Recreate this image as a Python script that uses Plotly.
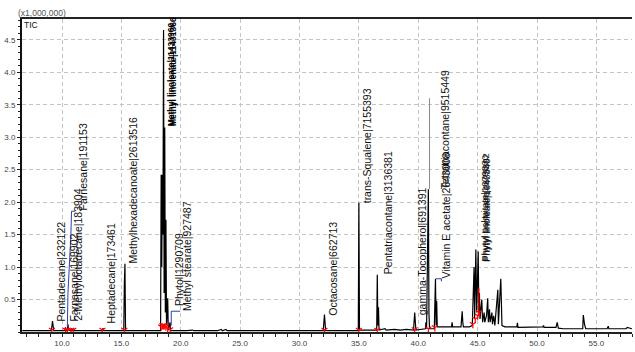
import plotly.graph_objects as go

# ---------------- data (retention time in min, TIC in units of 1,000,000) ----------------
rt_min = [6.65, 9.1, 9.2, 9.3, 10.25, 10.3, 10.35, 10.45, 10.5, 10.55, 10.75, 10.8, 10.85,
          10.95, 11.0, 11.05, 13.4, 13.45, 13.5, 15.2, 15.25, 15.3, 15.35,
          18.3, 18.35, 18.4, 18.45, 18.5, 18.55, 18.6, 18.65, 18.7, 18.75, 18.8, 18.9, 18.95,
          19.1, 19.15, 20.5, 21.0, 21.1, 22.3, 22.4, 22.5, 23.0, 23.1, 23.4, 23.5, 23.8, 23.9,
          24.5, 26.0, 27.5, 27.6, 29.0, 30.5, 30.6, 32.0, 32.1, 32.2,
          34.95, 35.0, 35.05, 36.5, 36.55, 36.6, 36.65, 36.7, 37.2, 37.3, 38.0, 38.5, 39.0,
          39.6, 39.7, 39.75, 39.8, 40.6, 40.65, 40.7, 40.85, 40.9, 40.95,
          41.35, 41.45, 41.5, 41.55, 41.6, 42.0, 42.8, 42.85, 42.9, 43.6, 43.7, 43.75, 43.8,
          44.3, 44.55, 44.7, 44.75, 44.85, 44.92, 45.05, 45.1, 45.15, 45.2, 45.35, 45.42,
          45.55, 45.6, 45.75, 45.85, 45.9, 46.0, 46.05, 46.2, 46.25, 46.35, 46.45, 46.7,
          46.75, 46.95, 47.05, 47.3, 48.3, 48.35, 48.4, 49.5, 50.5, 50.55, 50.6, 51.6, 51.7,
          51.8, 52.2, 53.85, 53.9, 54.0, 54.1, 55.9, 56.0, 56.05, 57.5, 57.6, 58.0]
tic = [0.02, 0.02, 0.17, 0.02, 0.02, 0.07, 0.02, 0.02, 0.12, 0.03, 0.02, 0.06, 0.02,
       0.02, 0.05, 0.02, 0.02, 0.06, 0.02, 0.02, 0.75, 1.05, 0.02,
       0.02, 2.42, 1.0, 2.42, 1.5, 4.65, 0.6, 3.15, 0.3, 1.73, 0.1, 0.52, 0.03,
       0.15, 0.02, 0.02, 0.03, 0.02, 0.02, 0.03, 0.02, 0.03, 0.02, 0.04, 0.02, 0.04, 0.02,
       0.02, 0.02, 0.03, 0.02, 0.02, 0.03, 0.02, 0.02, 0.27, 0.02,
       0.02, 1.99, 0.03, 0.03, 0.88, 0.1, 0.38, 0.03, 0.05, 0.03, 0.04, 0.03, 0.04,
       0.03, 0.3, 0.1, 0.03, 0.05, 0.15, 0.05, 2.2, 0.3, 0.05,
       0.05, 0.82, 0.1, 0.48, 0.08, 0.08, 0.08, 0.15, 0.08, 0.08, 0.32, 0.15, 0.08,
       0.08, 0.1, 1.0, 0.2, 1.27, 0.3, 1.24, 0.3, 0.6, 0.2, 0.5, 0.15,
       0.3, 0.15, 0.25, 0.52, 0.15, 0.35, 0.15, 0.3, 0.12, 0.25, 0.1, 0.65,
       0.12, 0.82, 0.1, 0.08, 0.08, 0.14, 0.07, 0.07, 0.08, 0.1, 0.07, 0.07, 0.15,
       0.06, 0.05, 0.05, 0.26, 0.12, 0.05, 0.05, 0.09, 0.05, 0.05, 0.07, 0.05]

# peak labels: text, retention time where label sits, label start height
label_text = ["Pentadecane|232122", "Farnesane|169902", "2-Methyloctadecane|183904",
              "Farnesane|191153", "Heptadecane|173461", "Methylhexadecanoate|2613516",
              "Methyl linoleate|11433960", "Methyl linolenate|11431366",
              "Phytol|1290709", "Methyl stearate|927487", "Octacosane|662713",
              "trans-Squalene|7155393", "Pentatriacontane|3136381",
              "gamma-Tocopherol|691391", "Tetratriacontane|9515449",
              "Vitamin E acetate|2643008", "Phytyl palmitate|1679830",
              "Phytyl linolenate|1675892", "Phytyl linoleate|1648340"]
label_rt = [9.35, 10.45, 10.8, 11.15, 13.5, 15.35, 18.75, 18.85, 19.25, 19.95, 32.25,
            35.1, 36.85, 39.8, 41.65, 41.75, 44.95, 45.05, 45.15]
label_y = [0.15, 0.15, 0.15, 1.86, 0.11, 1.04, 3.15, 3.15, 0.39, 0.31, 0.24,
           1.96, 0.88, 0.24, 2.19, 0.81, 1.07, 1.07, 1.07]

# blue leader lines
lead_farnesane_rt = [10.45, 10.5, 10.75, 10.8, 11.1]
lead_farnesane_y = [0.08, 0.6, 1.5, 1.86, 1.86]
lead_stearate_rt = [19.2, 19.2, 19.95]
lead_stearate_y = [0.1, 0.32, 0.32]
lead_vitamin_rt = [41.5, 41.95, 41.95]
lead_vitamin_y = [0.82, 0.82, 0.78]
# grey leader (Tetratriacontane)
lead_grey_rt = [40.95, 40.95]
lead_grey_y = [2.2, 3.6]

# red integration marks
mark_rt = [9.15, 10.3, 10.45, 10.75, 10.95, 13.4, 15.25, 18.35, 18.45, 18.55, 18.65,
           18.75, 18.9, 19.1, 32.1, 35.0, 36.55, 39.7, 40.85, 41.4, 44.6, 44.8, 45.0, 45.1]
mark_y = [0.03, 0.03, 0.03, 0.03, 0.03, 0.03, 0.03, 0.08, 0.1, 0.1, 0.1,
          0.08, 0.05, 0.04, 0.03, 0.03, 0.03, 0.04, 0.05, 0.07, 0.12, 0.2, 0.25, 0.3]
red_seg_rt = [45.1, 45.1]
red_seg_y = [0.25, 0.68]

x_ticks = [10, 15, 20, 25, 30, 35, 40, 45, 50, 55]
y_ticks = [0.5, 1.0, 1.5, 2.0, 2.5, 3.0, 3.5, 4.0, 4.5]

# ---------------- figure ----------------
fig = go.Figure()
fig.add_trace(go.Scatter(x=rt_min, y=tic, mode="lines",
                         line=dict(color="black", width=1.2), hoverinfo="skip"))
fig.add_trace(go.Scatter(x=lead_grey_rt, y=lead_grey_y, mode="lines",
                         line=dict(color="#8a8a8a", width=1)))
for lx, ly in [(lead_farnesane_rt, lead_farnesane_y), (lead_stearate_rt, lead_stearate_y),
               (lead_vitamin_rt, lead_vitamin_y)]:
    fig.add_trace(go.Scatter(x=lx, y=ly, mode="lines",
                             line=dict(color="#2b3fb5", width=1)))
fig.add_trace(go.Scatter(x=red_seg_rt, y=red_seg_y, mode="lines",
                         line=dict(color="red", width=1.2)))
fig.add_trace(go.Scatter(x=mark_rt, y=mark_y, mode="markers",
                         marker=dict(symbol="y-down-open", size=5, color="red",
                                     line=dict(color="red", width=1.2))))

# crowded clusters use a compressed bold-ish style, like the instrument printout
for txt, lx, ly in zip(label_text, label_rt, label_y):
    if txt.startswith("Methyl linol"):
        fnt = dict(family="Liberation Sans Narrow, Liberation Sans", size=8.5, color="#000")
        txt_show = "<b>" + txt + "</b>"
    elif txt.startswith("Phytyl"):
        fnt = dict(family="Liberation Sans Narrow, Liberation Sans", size=9.5, color="#111")
        txt_show = txt
    else:
        fnt = dict(family="Liberation Sans, Arial", size=10.5, color="#111")
        txt_show = txt
    fig.add_annotation(x=lx, y=ly, text=txt_show, textangle=-90, showarrow=False,
                       xanchor="left", yanchor="bottom", borderpad=0, font=fnt)

fig.add_annotation(xref="paper", yref="paper", x=-0.008, y=1.0, yanchor="bottom",
                   xanchor="left", text="(x1,000,000)", showarrow=False, borderpad=0,
                   font=dict(family="Liberation Sans, Arial", size=8.5, color="#555"))
fig.add_annotation(xref="paper", yref="paper", x=0.002, y=1.0, yanchor="top",
                   xanchor="left", text="TIC", showarrow=False, borderpad=0,
                   font=dict(family="Liberation Sans, Arial", size=8.5, color="#111"))

fig.update_layout(
    width=635, height=352,
    margin=dict(l=22, r=3, t=19, b=20, autoexpand=False),
    paper_bgcolor="white", plot_bgcolor="white",
    showlegend=False,
    font=dict(family="Liberation Sans, Arial", size=8, color="#444"),
)
fig.update_xaxes(range=[6.63, 58.0], tickvals=x_ticks, automargin=False,
                 ticktext=[f"{v:.1f}" for v in x_ticks],
                 showgrid=True, gridcolor="#c4c4c4", griddash="4px,3px", gridwidth=1,
                 showline=True, linecolor="#222", linewidth=1.5, mirror=True,
                 ticks="outside", ticklen=3, tickcolor="#222",
                 minor=dict(dtick=1, ticks="outside", ticklen=3, tickcolor="#222",
                            showgrid=False),
                 zeroline=False, tickfont=dict(size=8, color="#444"))
fig.update_yaxes(range=[0, 4.82], tickvals=y_ticks, automargin=False,
                 ticktext=[f"{v:.1f}" for v in y_ticks],
                 showgrid=True, gridcolor="#c4c4c4", griddash="4px,3px", gridwidth=1,
                 showline=True, linecolor="#111", linewidth=2,
                 ticks="outside", ticklen=3, tickcolor="#222",
                 minor=dict(dtick=0.1, ticks="outside", ticklen=2, tickcolor="#222",
                            showgrid=False),
                 zeroline=False, tickfont=dict(size=8, color="#444"))

fig.write_html("out.html", config={"displayModeBar": False},
               post_script="document.body.style.margin='0';document.body.style.overflow='hidden';")
